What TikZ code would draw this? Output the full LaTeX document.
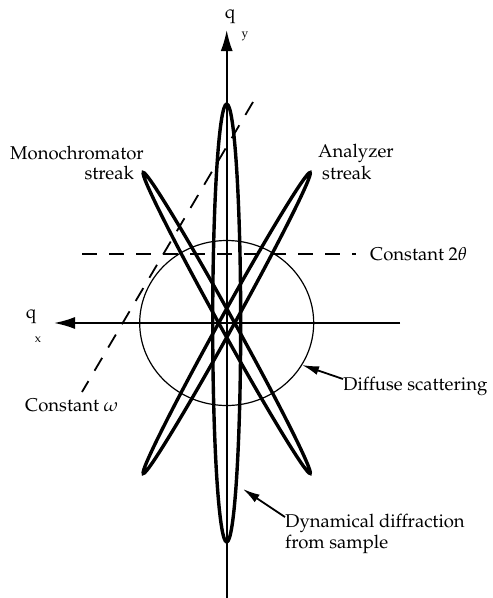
\documentclass[tikz,border=0pt]{standalone}
\usepackage[T1]{fontenc}
\usepackage{mathpazo}
\usetikzlibrary{arrows.meta}
\begin{document}
\begin{tikzpicture}[x=1pt,y=-1pt,
  lbl/.style={inner sep=0pt, font=\fontsize{18.5}{21}\selectfont},
  sub/.style={inner sep=0pt, font=\fontsize{12}{14}\selectfont},
  streak/.style={line width=3.4pt},
  axis/.style={line width=1.8pt},
  ring/.style={line width=1.2pt},
  dline/.style={line width=1.8pt, dash pattern=on 15pt off 12pt},
  bigtip/.style={-{Latex[length=21pt,width=12pt]}},
  ptr/.style={line width=1.8pt, -{Latex[length=17pt,width=9pt]}}
]
\useasboundingbox (0,0) rectangle (493,598);
\coordinate (O) at (226.7,323);

% axes
\coordinate (ybot) at (226.7,598);
\coordinate (ytop) at (226.7,30);
\coordinate (xr) at (400,323);
\coordinate (xl) at (54,323);
\draw[axis,bigtip] (ybot) -- (ytop);
\draw[axis,bigtip] (xr) -- (xl);

% diffuse scattering circle
\draw[ring] (O) ellipse (87 and 82.5);

% dynamical diffraction (vertical lens)
\draw[streak] (O) ellipse (14 and 219);
% monochromator and analyzer streaks
\draw[streak, rotate around={119:(O)}] (O) ellipse (172 and 7);
\draw[streak, rotate around={61:(O)}] (O) ellipse (172 and 7);

% dashed lines
\coordinate (tA) at (82,254);
\coordinate (tB) at (356,254);
\draw[dline] (tA) -- (tB);
\coordinate (wA) at (253,102);
\coordinate (wB) at (82,392);
\draw[dline] (wA) -- (wB);

% labels
\node[lbl] (qy) at (230,17) {q};
\node[sub] (ysub) at (245,37) {y};
\node[lbl] (qx) at (31,317) {q};
\node[sub] (xsub) at (38,340) {x};

\node[lbl, anchor=west] (mono) at (10,153) {Monochromator};
\node[lbl, anchor=east] (monos) at (134,173) {streak};
\node[lbl, anchor=west] (ana) at (318,153) {Analyzer};
\node[lbl, anchor=west] (anas) at (322,173) {streak};

\node[lbl, anchor=west] (c2t) at (370,254) {Constant 2$\theta$};
\node[lbl, anchor=west] (cw) at (25,405) {Constant $\omega$};

\node[lbl, anchor=west] (diff) at (343,386) {Diffuse scattering};
\node[lbl, anchor=north west, align=left] (dyn) at (285,514) {Dynamical diffraction\\from sample};

\coordinate (dtip) at (302,365);
\coordinate (dfrom) at (343,379);
\draw[ptr] (dfrom) -- (dtip);
\coordinate (ytip) at (243,489);
\coordinate (yfrom) at (285,517);
\draw[ptr] (yfrom) -- (ytip);
\end{tikzpicture}
\end{document}
